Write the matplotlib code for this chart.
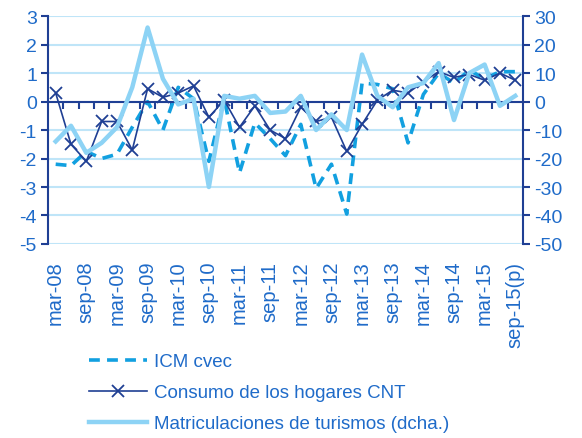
import matplotlib
matplotlib.use('Agg')
import matplotlib.pyplot as plt
import numpy as np

plt.rcParams['font.family'] = ['Liberation Sans', 'DejaVu Sans']
plt.rcParams['font.size'] = 14
plt.rcParams['axes.unicode_minus'] = False

# quarterly data, mar-08 .. sep-15(p)
tick_labels = ['mar-08', 'sep-08', 'mar-09', 'sep-09', 'mar-10', 'sep-10',
               'mar-11', 'sep-11', 'mar-12', 'sep-12', 'mar-13', 'sep-13',
               'mar-14', 'sep-14', 'mar-15', 'sep-15(p)']

icm = [-2.2, -2.25, -1.75, -2.0, -1.85, -0.9, 0.0, -1.0, 0.5, 0.1,
       -2.1, 0.1, -2.5, -0.75, -1.3, -1.9, -0.8, -3.05, -2.2, -3.95,
       0.65, 0.6, 0.45, -1.45, 0.25, 1.0, 0.65, 1.1, 0.8, 1.05, 1.05]

consumo = [0.3, -1.5, -2.1, -0.7, -0.7, -1.7, 0.45, 0.15, 0.3, 0.55,
           -0.55, 0.05, -0.9, -0.15, -1.0, -1.3, -0.2, -0.7, -0.55, -1.75,
           -0.8, 0.05, 0.4, 0.3, 0.7, 1.05, 0.85, 0.95, 0.75, 1.0, 0.75]

matric = [-14, -8.5, -18, -14.5, -9, 5, 26, 8, -1, 1,
          -30, 2, 1, 2, -4, -3.5, 2, -10, -4.5, -10,
          16.5, 2, -2, 5, 6.5, 13.5, -6.5, 10, 13, -1.5, 2]

NAVY = '#1F3F94'
ICM_C = '#12A0E0'
MAT_C = '#8DD3F5'
GRID_C = '#BFE5F8'
TXT_C = '#1F6BC9'

x = np.arange(len(icm))

fig = plt.figure(figsize=(5.82, 4.39), dpi=100)
ax = fig.add_axes([0.0825, 0.442, 0.816, 0.519])
ax2 = ax.twinx()

ax.set_zorder(1)
ax.patch.set_visible(False)
ax2.set_zorder(2)

l1, = ax.plot(x, icm, color=ICM_C, lw=2.6, dashes=(3, 2), label='ICM cvec')
l2, = ax.plot(x, consumo, color=NAVY, lw=1.2, marker='x', ms=9, mew=1.3,
              label='Consumo de los hogares CNT')
l3, = ax2.plot(x, matric, color=MAT_C, lw=3.2, label='Matriculaciones de turismos (dcha.)')

ax.set_xlim(-0.5, len(icm) - 0.5)
ax.set_ylim(-5, 3)
ax.set_yticks(np.arange(-5, 4, 1))
ax2.set_ylim(-50, 30)
ax2.set_yticks(np.arange(-50, 31, 10))

ax.yaxis.grid(True, color=GRID_C, lw=1.5)
ax.set_axisbelow(True)

# zero axis with ticks between categories
ax.spines['bottom'].set_position(('data', 0))
ax.spines['bottom'].set_color(NAVY)
ax.spines['bottom'].set_linewidth(1.5)
ax.set_xticks(np.arange(0.5, len(icm) - 0.5, 1))
ax.tick_params(axis='x', length=5, width=1.5, color=NAVY, labelbottom=False)

sec = ax.secondary_xaxis('bottom')
sec.set_xticks(x[::2], tick_labels, rotation=90, fontsize=14.5)
sec.tick_params(length=0, pad=12, labelcolor=TXT_C)
for s in sec.spines.values():
    s.set_visible(False)

for a in (ax, ax2):
    a.spines['top'].set_visible(False)
ax.spines['right'].set_visible(False)
ax2.spines['bottom'].set_visible(False)
ax2.spines['left'].set_visible(False)
ax.spines['left'].set_color(NAVY)
ax.spines['left'].set_linewidth(1.5)
ax2.spines['right'].set_color(NAVY)
ax2.spines['right'].set_linewidth(1.5)
ax.tick_params(axis='y', length=5, width=1.5, color=NAVY, labelcolor=TXT_C, pad=3)
ax2.tick_params(axis='y', length=5, width=1.5, color=NAVY, labelcolor=TXT_C, pad=3)

leg = fig.legend([l1, l2, l3], [l1.get_label(), l2.get_label(), l3.get_label()],
                 loc='upper left', bbox_to_anchor=(0.136, 0.215), frameon=False,
                 fontsize=13.5, handlelength=3.1, handletextpad=0.4, labelspacing=0.75,
                 numpoints=1, borderpad=0)
for t in leg.get_texts():
    t.set_color(TXT_C)

fig.savefig('out.png', dpi=100)
